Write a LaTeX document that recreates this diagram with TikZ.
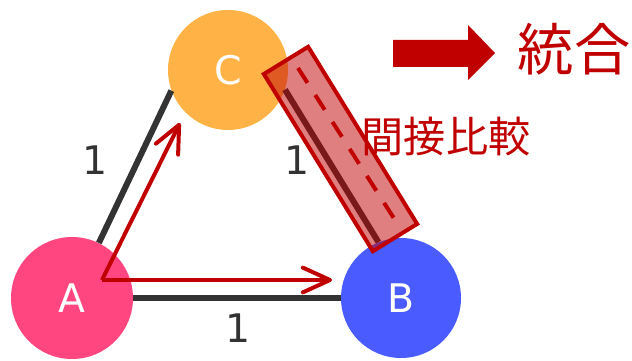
\documentclass[tikz,border=0pt]{standalone}
\usepackage{fontspec}
\setmainfont{DejaVu Sans}
\newfontfamily\jp{Noto Sans CJK JP}
\usetikzlibrary{arrows.meta}
\definecolor{pinkA}{HTML}{FF4680}
\definecolor{blueB}{HTML}{4A5BFF}
\definecolor{orangeC}{HTML}{FFB347}
\definecolor{darkred}{HTML}{C00000}
\definecolor{edgegray}{HTML}{333333}

\begin{document}
\begin{tikzpicture}[
  vertex/.style={circle,minimum size=3cm,inner sep=0pt,text=white,font=\fontsize{28}{30}\selectfont},
  link/.style={line width=0.15cm,edgegray},
  weight/.style={text=edgegray,font=\fontsize{28}{30}\selectfont},
  route/.style={line width=0.1cm,darkred,-{Straight Barb[length=0.68cm,width=0.62cm,round]}}]
  \useasboundingbox (0,0) rectangle (15.8,9);
  \node[vertex,fill=pinkA,minimum size=3.05cm] (A) at (1.8,1.55) {A};
  \node[vertex,fill=blueB] (B) at (10.025,1.55) {B};
  \node[vertex,fill=orangeC] (C) at (5.7,7.25) {C};
  \draw[link] (A) -- (B);
  \draw[link] (A.64) -- (C.200);
  \draw[link] (C.341) -- (B.112);
  \node[weight] (wAC) at (2.375,5.0) {1};
  \node[weight] (wCB) at (7.425,5.0) {1};
  \node[weight] (wAB) at (5.95,0.8) {1};
  \coordinate (o) at (2.55,2.0);
  \coordinate (toC) at (4.5,5.925);
  \coordinate (toB) at (8.3,2.0);
  \draw[route] (o) -- (toC);
  \draw[route] (o) -- (toB);
  \node[draw=darkred,line width=0.1cm,fill=darkred,fill opacity=0.5,
    minimum width=5.2cm,minimum height=1.3cm,rotate=-58.4] (hl) at (8.5125,5.275) {};
  \coordinate (d1) at (7.45,7.3);
  \coordinate (d2) at (9.875,3.5);
  \draw[darkred,line width=0.1cm,dash pattern=on 0.44cm off 0.36cm] (d1) -- (d2);
  \node[text=darkred,font=\jp\fontsize{30}{32}\selectfont] (ind) at (11.15,5.575) {間接比較};
  \fill[darkred] (9.825,8.0) -- (11.7,8.0) -- (11.7,8.375) -- (12.375,7.675)
    -- (11.7,7.0) -- (11.7,7.325) -- (9.825,7.325) -- cycle;
  \node[text=darkred,font=\jp\fontsize{40}{42}\selectfont] (merge) at (14.35,7.775) {統合};
\end{tikzpicture}
\end{document}
